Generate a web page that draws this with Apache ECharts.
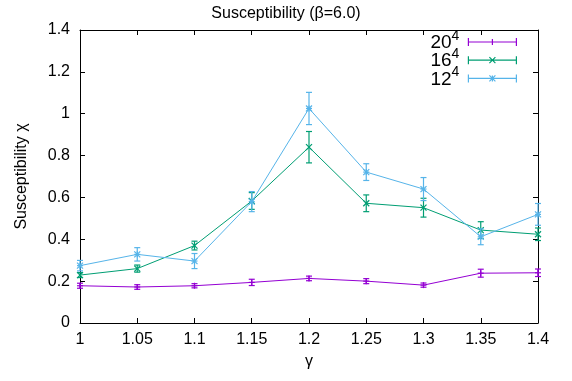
<!DOCTYPE html>
<html>
<head>
<meta charset="utf-8">
<script src="https://cdn.jsdelivr.net/npm/echarts@6/dist/echarts.min.js"></script>
<style>html,body{margin:0;padding:0;background:#fff}#c{width:572px;height:381px}</style>
</head>
<body>
<div id="c"></div>
<script>
const gamma = [1.0, 1.05, 1.1, 1.15, 1.2, 1.25, 1.3, 1.35, 1.4];
const chi20 = [0.178, 0.172, 0.178, 0.194, 0.213, 0.200, 0.181, 0.238, 0.240];
const err20 = [0.012, 0.011, 0.010, 0.015, 0.011, 0.012, 0.010, 0.019, 0.018];
const chi16 = [0.229, 0.260, 0.370, 0.583, 0.840, 0.572, 0.551, 0.444, 0.424];
const err16 = [0.012, 0.017, 0.021, 0.040, 0.075, 0.040, 0.045, 0.040, 0.030];
const chi12 = [0.274, 0.328, 0.296, 0.580, 1.025, 0.721, 0.640, 0.412, 0.519];
const err12 = [0.025, 0.032, 0.036, 0.048, 0.077, 0.040, 0.055, 0.038, 0.052];
const latticeSizes = ['20', '16', '12'];
const exponent = '4';
const xTickValues = ['1', '1.05', '1.1', '1.15', '1.2', '1.25', '1.3', '1.35', '1.4'];
const yTickValues = ['0', '0.2', '0.4', '0.6', '0.8', '1', '1.2', '1.4'];
const titleText = 'Susceptibility (β=6.0)';
const xName = 'γ';
const yName = 'Susceptibility χ';

const colors = ['#9400d3', '#009e73', '#56b4e9'];
const markers = ['+', 'x', '*'];
const chis = [chi20, chi16, chi12];
const errs = [err20, err16, err12];
const FONT = '"Liberation Sans", Arial, sans-serif';

function fmt(v) { return String(+(+v).toFixed(2)); }

function markerShapes(type, px, py, m) {
  const segs = [];
  if (type === '+' || type === '*') {
    segs.push([px - m, py, px + m, py], [px, py - m, px, py + m]);
  }
  if (type === 'x' || type === '*') {
    segs.push([px - m, py - m, px + m, py + m], [px - m, py + m, px + m, py - m]);
  }
  return segs;
}

function makeRender(idx) {
  return function (params, api) {
    const x = api.value(0), y = api.value(1), e = api.value(2);
    const p = api.coord([x, y]);
    const lo = api.coord([x, y - e]);
    const hi = api.coord([x, y + e]);
    const cap = 3;
    const segs = [
      [p[0], lo[1], p[0], hi[1]],
      [p[0] - cap, lo[1], p[0] + cap, lo[1]],
      [p[0] - cap, hi[1], p[0] + cap, hi[1]]
    ].concat(markerShapes(markers[idx], p[0], p[1], 3));
    return {
      type: 'group',
      children: segs.map(s => ({
        type: 'line',
        shape: { x1: s[0], y1: s[1], x2: s[2], y2: s[3] },
        style: { stroke: colors[idx], lineWidth: 1.2 }
      }))
    };
  };
}

function legendIcon(type) {
  let d = 'M0,0V8M48,0V8M0,4H48';
  if (type === '+') d += 'M24,1V7';
  if (type === 'x') d += 'M21,1L27,7M27,1L21,7';
  if (type === '*') d += 'M21,4H27M24,1V7M21,1L27,7M27,1L21,7';
  return 'path://' + d;
}

const series = [];
latticeSizes.forEach((L, i) => {
  const name = L;
  series.push({
    type: 'line', name: name,
    data: gamma.map((g, k) => [g, chis[i][k]]),
    symbol: 'none',
    lineStyle: { color: colors[i], width: 1 },
    itemStyle: { color: colors[i] },
    z: 2 + i * 2, silent: true, animation: false
  });
  series.push({
    type: 'custom', name: name,
    data: gamma.map((g, k) => [g, chis[i][k], errs[i][k]]),
    renderItem: makeRender(i),
    itemStyle: { color: colors[i] },
    z: 3 + i * 2, silent: true, animation: false
  });
});

const axisCommon = {
  type: 'value',
  axisLine: { show: true, onZero: false, lineStyle: { color: '#000', width: 1 } },
  axisTick: { show: true, inside: true, length: 5, lineStyle: { color: '#000', width: 1 } },
  splitLine: { show: false }
};

const chart = echarts.init(document.getElementById('c'), null, { renderer: 'canvas' });
chart.setOption({
  animation: false,
  backgroundColor: '#fff',
  textStyle: { fontFamily: FONT },
  title: {
    text: titleText, left: 'center', top: 1,
    textStyle: { fontSize: 16, fontWeight: 'normal', color: '#000', fontFamily: FONT }
  },
  grid: { left: 80, right: 34, top: 30, bottom: 58 },
  legend: {
    orient: 'vertical', right: 55, top: 29, align: 'right', padding: 0,
    itemWidth: 48, itemHeight: 8, itemGap: -9.8,
    data: latticeSizes.map((L, i) => ({
      name: L, icon: legendIcon(markers[i]),
      itemStyle: { color: 'transparent', borderColor: colors[i], borderWidth: 1.2 }
    })),
    formatter: n => '{n|' + n + '}{s|' + exponent + '}',
    textStyle: {
      color: '#000', fontFamily: FONT, padding: [2, 4, 0, 0],
      rich: {
        n: { fontSize: 19, lineHeight: 19, fontFamily: FONT, color: '#000' },
        s: { fontSize: 14, lineHeight: 14, padding: [0, 0, 14, 0], fontFamily: FONT, color: '#000' }
      }
    },
    selectedMode: false
  },
  xAxis: [
    Object.assign({}, axisCommon, {
      min: 1, max: 1.4, interval: 0.05, position: 'bottom',
      axisLabel: { fontSize: 16, color: '#000', margin: 9, fontFamily: FONT,
        formatter: v => xTickValues.find(t => +t === +(+v).toFixed(2)) || fmt(v) },
      name: xName, nameLocation: 'middle', nameGap: 31,
      nameTextStyle: { fontSize: 16, color: '#000', fontFamily: FONT }
    }),
    Object.assign({}, axisCommon, {
      min: 1, max: 1.4, interval: 0.05, position: 'top',
      axisLabel: { show: false }
    })
  ],
  yAxis: [
    Object.assign({}, axisCommon, {
      min: 0, max: 1.4, interval: 0.2, position: 'left',
      axisLabel: { fontSize: 16, color: '#000', margin: 10, fontFamily: FONT,
        formatter: v => yTickValues.find(t => +t === +(+v).toFixed(2)) || fmt(v) },
      name: yName, nameLocation: 'middle', nameGap: 50, nameRotate: 90,
      nameTextStyle: { fontSize: 16, color: '#000', fontFamily: FONT }
    }),
    Object.assign({}, axisCommon, {
      min: 0, max: 1.4, interval: 0.2, position: 'right',
      axisLabel: { show: false }
    })
  ],
  series: series
});
</script>
</body>
</html>
